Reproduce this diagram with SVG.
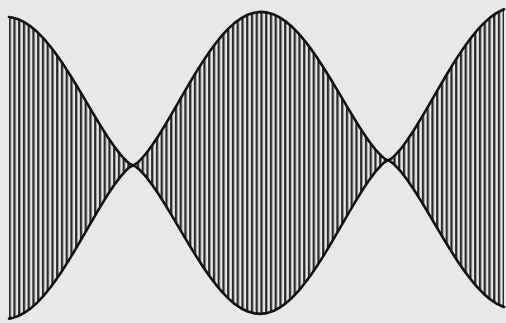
<svg xmlns="http://www.w3.org/2000/svg" width="506" height="323" viewBox="0 0 506 323">
<style>
.curve{fill:none;stroke:#111;stroke-width:2.6;stroke-linejoin:round;stroke-linecap:round}
.paper{fill:#e8e8e8}
</style>
<defs>
<pattern id="hatch" patternUnits="userSpaceOnUse" x="8.6" y="0" width="4.75" height="10">
<rect x="0" y="0" width="2.3" height="10" fill="#2a2a2a"/>
</pattern>
<path id="upper" d="M9,17.2 L11.88,17.65 18.25,19.6 24.63,22.81 31,27.24 37.38,32.84 43.75,39.53 50.13,47.21 56.5,55.77 62.88,65.1 69.25,75.05 75.63,85.49 82,96.24 88.38,107.15 94.75,118.02 101.13,128.65 107.5,138.83 113.88,148.3 120.25,156.76 126.63,163.72 129.81,166.38 133,168 136.19,166.38 139.38,163.72 145.75,156.76 152.13,148.3 158.5,138.83 164.88,128.65 171.25,118.02 177.63,107.15 184,96.24 190.38,85.49 196.75,75.05 203.13,65.1 209.5,55.77 215.88,47.21 222.25,39.53 228.63,32.84 235,27.24 241.38,22.81 247.75,19.6 254.13,17.65 260.5,17 266.88,17.65 273.25,19.6 279.63,22.81 286,27.24 292.38,32.84 298.75,39.53 305.13,47.21 311.5,55.77 317.88,65.1 324.25,75.05 330.63,85.49 337,96.24 343.38,107.15 349.75,118.02 356.13,128.65 362.5,138.83 368.88,148.3 375.25,156.76 381.63,163.72 384.81,166.38 388,168 391.19,166.38 394.38,163.72 400.75,156.76 407.13,148.3 413.5,138.83 419.88,128.65 426.25,118.02 432.63,107.15 439,96.24 445.38,85.49 451.75,75.05 458.13,65.1 464.5,55.77 470.88,47.21 477.25,39.53 483.63,32.84 490,27.24 496.38,22.81 502.75,19.6 504,19.2"/>
</defs>
<rect class="paper" x="0" y="0" width="506" height="323"/>
<g id="beat-pattern" transform="skewY(-1.123)">
<path id="hatching" fill="url(#hatch)" d="M9,17.2 L11.88,17.65 18.25,19.6 24.63,22.81 31,27.24 37.38,32.84 43.75,39.53 50.13,47.21 56.5,55.77 62.88,65.1 69.25,75.05 75.63,85.49 82,96.24 88.38,107.15 94.75,118.02 101.13,128.65 107.5,138.83 113.88,148.3 120.25,156.76 126.63,163.72 129.81,166.38 133,168 136.19,166.38 139.38,163.72 145.75,156.76 152.13,148.3 158.5,138.83 164.88,128.65 171.25,118.02 177.63,107.15 184,96.24 190.38,85.49 196.75,75.05 203.13,65.1 209.5,55.77 215.88,47.21 222.25,39.53 228.63,32.84 235,27.24 241.38,22.81 247.75,19.6 254.13,17.65 260.5,17 266.88,17.65 273.25,19.6 279.63,22.81 286,27.24 292.38,32.84 298.75,39.53 305.13,47.21 311.5,55.77 317.88,65.1 324.25,75.05 330.63,85.49 337,96.24 343.38,107.15 349.75,118.02 356.13,128.65 362.5,138.83 368.88,148.3 375.25,156.76 381.63,163.72 384.81,166.38 388,168 391.19,166.38 394.38,163.72 400.75,156.76 407.13,148.3 413.5,138.83 419.88,128.65 426.25,118.02 432.63,107.15 439,96.24 445.38,85.49 451.75,75.05 458.13,65.1 464.5,55.77 470.88,47.21 477.25,39.53 483.63,32.84 490,27.24 496.38,22.81 502.75,19.6 504,19.2 L504,316.8 502.75,316.4 496.38,313.19 490,308.76 483.63,303.16 477.25,296.47 470.88,288.79 464.5,280.23 458.13,270.9 451.75,260.95 445.38,250.51 439,239.76 432.63,228.85 426.25,217.98 419.88,207.35 413.5,197.17 407.13,187.7 400.75,179.24 394.38,172.28 391.19,169.62 388,168 384.81,169.62 381.63,172.28 375.25,179.24 368.88,187.7 362.5,197.17 356.13,207.35 349.75,217.98 343.38,228.85 337,239.76 330.63,250.51 324.25,260.95 317.88,270.9 311.5,280.23 305.13,288.79 298.75,296.47 292.38,303.16 286,308.76 279.63,313.19 273.25,316.4 266.88,318.35 260.5,319 254.13,318.35 247.75,316.4 241.38,313.19 235,308.76 228.63,303.16 222.25,296.47 215.88,288.79 209.5,280.23 203.13,270.9 196.75,260.95 190.38,250.51 184,239.76 177.63,228.85 171.25,217.98 164.88,207.35 158.5,197.17 152.13,187.7 145.75,179.24 139.38,172.28 136.19,169.62 133,168 129.81,169.62 126.63,172.28 120.25,179.24 113.88,187.7 107.5,197.17 101.13,207.35 94.75,217.98 88.38,228.85 82,239.76 75.63,250.51 69.25,260.95 62.88,270.9 56.5,280.23 50.13,288.79 43.75,296.47 37.38,303.16 31,308.76 24.63,313.19 18.25,316.4 11.88,318.35 9,318.8 Z"/>
<g id="envelope">
<use id="upper-curve" href="#upper" class="curve"/>
<use id="lower-curve" href="#upper" class="curve" transform="matrix(1 0 0 -1 0 336)"/>
</g>
</g>
</svg>
